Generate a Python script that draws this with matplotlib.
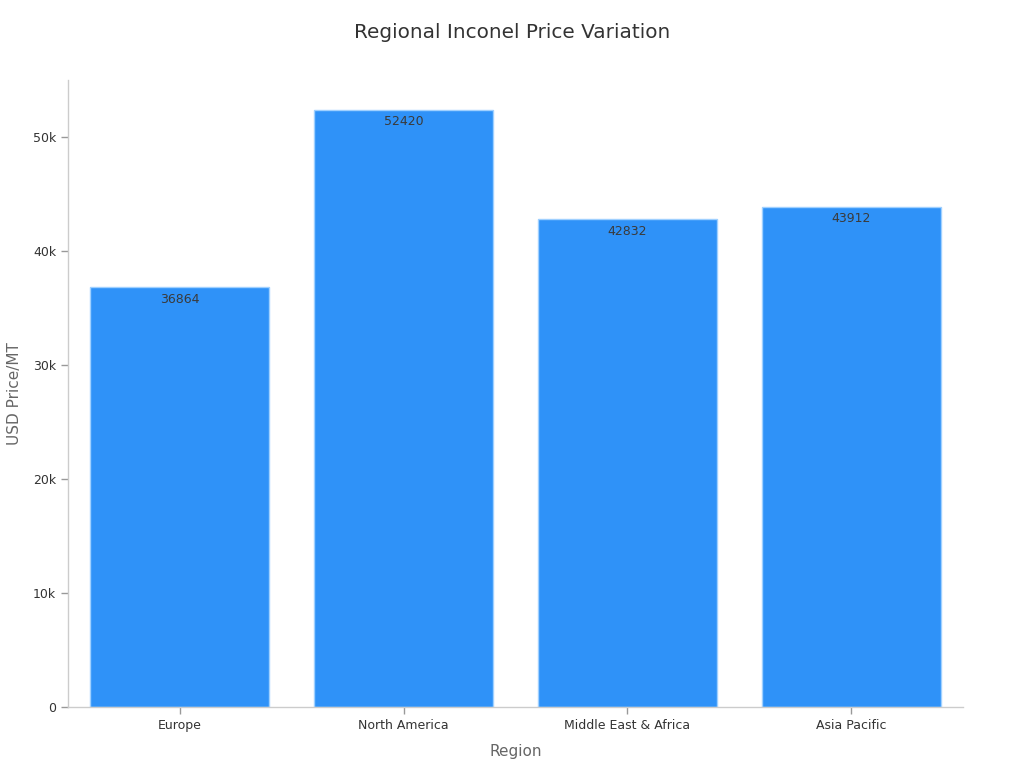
import matplotlib
matplotlib.use("Agg")

import matplotlib.pyplot as plt
from matplotlib.ticker import FuncFormatter


regions = ["Europe", "North America", "Middle East & Africa", "Asia Pacific"]
prices = [36864, 52420, 42832, 43912]

BAR_COLOR = "#2f92f8"
EDGE_COLOR = "#9fd0ff"
AXIS_GREY = "#cccccc"

plt.rcParams["font.family"] = ["DejaVu Sans"]

fig = plt.figure(figsize=(10.24, 7.68), dpi=100)
ax = fig.add_axes([0.0664, 0.0794, 0.874, 0.8164])

x = range(len(regions))
bars = ax.bar(x, prices, width=0.8, color=BAR_COLOR, edgecolor=EDGE_COLOR, linewidth=1)

for rect, val in zip(bars, prices):
    ax.annotate(str(val), (rect.get_x() + rect.get_width() / 2, val),
                xytext=(0, -4), textcoords="offset points",
                ha="center", va="top", fontsize=9, color="#3a3a3a")

ax.set_xlim(-0.5, len(regions) - 0.5)
ax.set_ylim(0, max(prices) * 1.05)
ax.set_xticks(list(x))
ax.set_xticklabels(regions)
ax.set_yticks([0, 10000, 20000, 30000, 40000, 50000])
ax.yaxis.set_major_formatter(FuncFormatter(lambda v, _: "0" if v == 0 else f"{int(v / 1000)}k"))

for side in ("top", "right"):
    ax.spines[side].set_visible(False)
for side in ("left", "bottom"):
    ax.spines[side].set_color(AXIS_GREY)
    ax.spines[side].set_linewidth(1)

ax.tick_params(axis="both", colors="#999999", labelcolor="#333333", labelsize=9, length=5, width=1)

ax.set_xlabel("Region", fontsize=11, color="#666666", labelpad=9)
ax.set_ylabel("USD Price/MT", fontsize=11, color="#666666", labelpad=8)
fig.suptitle("Regional Inconel Price Variation", fontsize=14.4, color="#333333", y=0.97)

fig.savefig("out.png", dpi=100)
